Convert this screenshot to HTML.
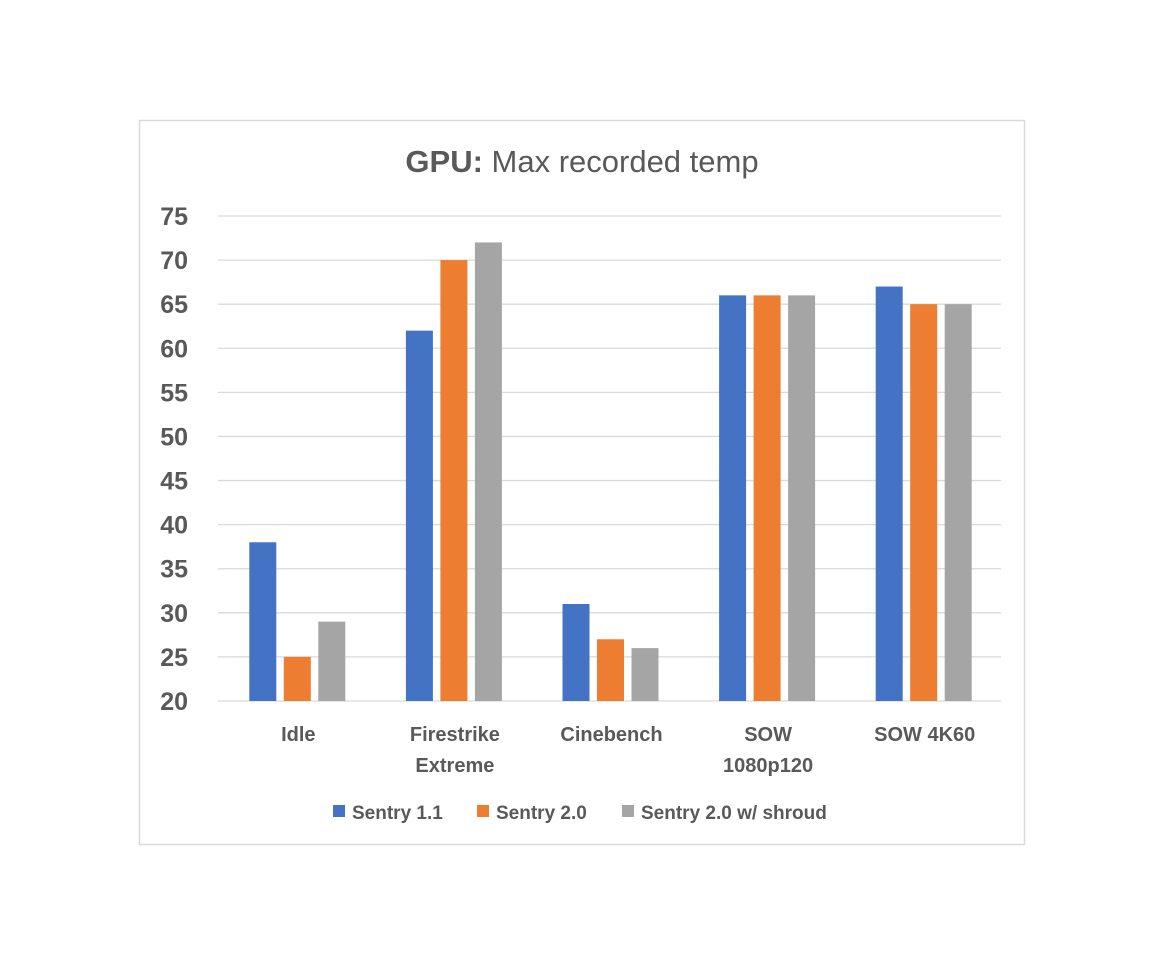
<!DOCTYPE html>
<html><head><meta charset="utf-8">
<style>
body{margin:0;background:#fff;width:1164px;height:966px;overflow:hidden;font-family:"Liberation Sans",sans-serif;}
</style></head>
<body>
<svg id="chart" width="1164" height="966" xmlns="http://www.w3.org/2000/svg">
<rect x="139.5" y="120.5" width="885" height="724" fill="#fff" stroke="#d9d9d9" stroke-width="1.5"/>
<text x="582" y="172" text-anchor="middle" font-size="31" fill="#595959"><tspan font-weight="bold">GPU:</tspan> Max recorded temp</text>
<g id="grid"></g><g id="bars"></g><g id="labels"></g>
<g font-size="19" font-weight="bold" fill="#595959">
<rect x="333" y="805" width="12" height="12" fill="#4472c4"/>
<text x="352" y="819">Sentry 1.1</text>
<rect x="477" y="805" width="12" height="12" fill="#ed7d31"/>
<text x="496" y="819">Sentry 2.0</text>
<rect x="622" y="805" width="12" height="12" fill="#a5a5a5"/>
<text x="641" y="819">Sentry 2.0 w/ shroud</text>
</g>
</svg>
<script>
const categories=[["Idle"],["Firestrike","Extreme"],["Cinebench"],["SOW","1080p120"],["SOW 4K60"]];
const sentry11=[38,62,31,66,67];
const sentry20=[25,70,27,66,65];
const sentry20shroud=[29,72,26,66,65];
const yTicks=[20,25,30,35,40,45,50,55,60,65,70,75];
const seriesNames=["sentry-1-1","sentry-2-0","sentry-2-0-shroud"];
const ns="http://www.w3.org/2000/svg";
const x0=218,x1=1001,yTop=216,yBot=701,vMin=20,vMax=75;
const y=v=>yBot-(v-vMin)/(vMax-vMin)*(yBot-yTop);
const bw=(x1-x0)/categories.length;
function mk(t,a,p){const e=document.createElementNS(ns,t);for(const k in a)e.setAttribute(k,a[k]);p.appendChild(e);return e;}
const grid=document.getElementById('grid'),bars=document.getElementById('bars'),labels=document.getElementById('labels');
yTicks.forEach(t=>{
 const l=mk('line',{x1:x0,x2:x1,y1:y(t),y2:y(t),stroke:'#d9d9d9','stroke-width':1.3},grid);
 
 
 const tx=mk('text',{x:188,y:y(t)+9,'text-anchor':'end','font-size':25,'font-weight':'bold',fill:'#595959'},labels);
 tx.textContent=t;
 
 
});
const series=[sentry11,sentry20,sentry20shroud],colors=['#4472c4','#ed7d31','#a5a5a5'];
const w=27,step=34.5;
categories.forEach((c,i)=>{
 const cx=x0+bw*(i+0.5);
 series.forEach((s,j)=>{
  const bx=cx+(j-1)*step-w/2+1;
  const r=mk('rect',{x:bx,y:y(s[i]),width:w,height:yBot-y(s[i]),fill:colors[j]},bars);
  
  
 });
 c.forEach((ln,k)=>{
  const tx=mk('text',{x:cx+2,y:741+k*31,'text-anchor':'middle','font-size':20,'font-weight':'bold',fill:'#595959'},labels);
  tx.textContent=ln;
  
  
 });
});
</script>
</body></html>
